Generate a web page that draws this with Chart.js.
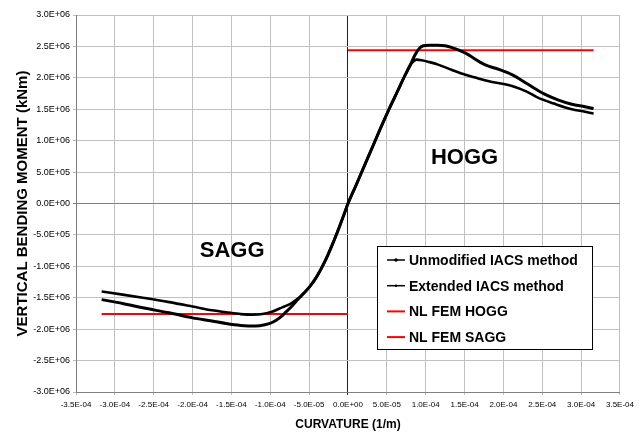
<!DOCTYPE html>
<html>
<head>
<meta charset="utf-8">
<script src="https://cdn.jsdelivr.net/npm/chart.js@4.4.0/dist/chart.umd.min.js"></script>
<style>
  html, body { margin: 0; padding: 0; background: #ffffff; }
  #wrap { width: 639px; height: 432px; }
</style>
</head>
<body>
<div id="wrap"><canvas id="chart" width="639" height="432"></canvas></div>
<script>
// =============================================================================
// DATA
// =============================================================================

const seriesLabels = ['Unmodified IACS method', 'Extended IACS method', 'NL FEM HOGG', 'NL FEM SAGG'];

// Unmodified IACS method (curvature 1/m, moment kNm)
const unmodCurvature = [
  -3.17e-4, -2.9e-4, -2.64e-4, -2.3e-4, -2.0e-4, -1.75e-4, -1.57e-4, -1.38e-4, -1.19e-4,
  -1.07e-4, -0.97e-4, -0.88e-4, -0.80e-4, -0.72e-4, -0.64e-4, -0.57e-4, -0.49e-4, -0.40e-4,
  -0.30e-4, -0.20e-4, -0.11e-4, -0.05e-4, 0, 0.1e-4, 0.19e-4, 0.27e-4, 0.35e-4, 0.43e-4,
  0.52e-4, 0.62e-4, 0.73e-4, 0.80e-4, 0.86e-4, 0.92e-4, 0.97e-4, 1.05e-4, 1.15e-4, 1.25e-4,
  1.34e-4, 1.5e-4, 1.76e-4, 1.95e-4, 2.11e-4, 2.3e-4, 2.53e-4, 2.7e-4, 2.88e-4, 3.05e-4, 3.16e-4
];
const unmodMoment = [
  -1.53e6, -1.59e6, -1.66e6, -1.74e6, -1.82e6, -1.87e6, -1.91e6, -1.94e6, -1.95e6,
  -1.93e6, -1.89e6, -1.82e6, -1.73e6, -1.63e6, -1.52e6, -1.43e6, -1.32e6, -1.16e6,
  -0.93e6, -0.65e6, -0.37e6, -0.17e6, 0, 0.28e6, 0.54e6, 0.77e6, 1.00e6, 1.23e6,
  1.48e6, 1.74e6, 2.03e6, 2.20e6, 2.36e6, 2.47e6, 2.51e6, 2.52e6, 2.52e6, 2.51e6,
  2.48e6, 2.40e6, 2.21e6, 2.13e6, 2.05e6, 1.91e6, 1.74e6, 1.65e6, 1.58e6, 1.54e6, 1.51e6
];

// Extended IACS method
const extCurvature = [
  -3.17e-4, -2.9e-4, -2.64e-4, -2.3e-4, -2.0e-4, -1.75e-4, -1.57e-4, -1.38e-4, -1.23e-4,
  -1.1e-4, -0.97e-4, -0.88e-4, -0.80e-4, -0.72e-4, -0.64e-4, -0.57e-4, -0.49e-4, -0.40e-4,
  -0.30e-4, -0.20e-4, -0.11e-4, -0.05e-4, 0, 0.1e-4, 0.19e-4, 0.27e-4, 0.35e-4, 0.43e-4,
  0.52e-4, 0.62e-4, 0.73e-4, 0.80e-4, 0.84e-4, 0.88e-4, 0.95e-4, 1.05e-4, 1.16e-4, 1.33e-4,
  1.51e-4, 1.65e-4, 1.8e-4, 2.11e-4, 2.3e-4, 2.45e-4, 2.65e-4, 2.88e-4, 3.05e-4, 3.16e-4
];
const extMoment = [
  -1.40e6, -1.45e6, -1.50e6, -1.57e6, -1.64e6, -1.70e6, -1.73e6, -1.76e6, -1.77e6,
  -1.76e6, -1.72e6, -1.67e6, -1.63e6, -1.58e6, -1.51e6, -1.43e6, -1.32e6, -1.16e6,
  -0.93e6, -0.65e6, -0.37e6, -0.17e6, 0, 0.28e6, 0.54e6, 0.77e6, 1.00e6, 1.23e6,
  1.48e6, 1.74e6, 2.03e6, 2.20e6, 2.26e6, 2.29e6, 2.28e6, 2.25e6, 2.21e6, 2.13e6,
  2.05e6, 2.0e6, 1.95e6, 1.87e6, 1.78e6, 1.68e6, 1.59e6, 1.50e6, 1.46e6, 1.43e6
];

// NL FEM ultimate strength lines
const femHoggCurvature = [0, 3.16e-4];
const femHoggMoment = [2.44e6, 2.44e6];
const femSaggCurvature = [-3.17e-4, 0];
const femSaggMoment = [-1.76e6, -1.76e6];

// Region labels placed in data coordinates
const regionLabels = ['HOGG', 'SAGG'];
const regionCurvature = [1.5e-4, -1.49e-4];
const regionMoment = [0.72e6, -0.75e6];

// =============================================================================
// HELPERS
// =============================================================================

const toPoints = (xs, ys) => xs.map((x, i) => ({ x: x, y: ys[i] }));

// Excel style scientific label: 3.0E+06, -5.0E-05
const sciLabel = (v) => {
  if (Math.abs(v) < 1e-15) return '0.0E+00';
  const parts = v.toExponential(1).split('e');
  const exp = parseInt(parts[1], 10);
  return parts[0] + 'E' + (exp < 0 ? '-' : '+') + String(Math.abs(exp)).padStart(2, '0');
};

const seriesColors = ['#000000', '#000000', '#ff0000', '#ff0000'];

// Text labels and legend box drawn on top of the plot
const overlayPlugin = {
  id: 'overlay',
  afterDatasetsDraw(chart) {
    const { ctx, chartArea, scales } = chart;
    ctx.save();

    // HOGG / SAGG
    ctx.fillStyle = '#000000';
    ctx.font = 'bold 22px "Liberation Sans", Arial, sans-serif';
    ctx.textAlign = 'center';
    ctx.textBaseline = 'middle';
    regionLabels.forEach((txt, i) => {
      ctx.fillText(txt, scales.x.getPixelForValue(regionCurvature[i]), scales.y.getPixelForValue(regionMoment[i]));
    });

    // legend box
    const boxX = chartArea.left + 301;
    const boxY = chartArea.top + 231;
    const boxW = 215;
    const boxH = 103;
    ctx.fillStyle = '#ffffff';
    ctx.fillRect(boxX, boxY, boxW, boxH);
    ctx.strokeStyle = '#000000';
    ctx.lineWidth = 1;
    ctx.strokeRect(boxX + 0.5, boxY + 0.5, boxW, boxH);

    ctx.font = 'bold 14px "Liberation Sans", Arial, sans-serif';
    ctx.textAlign = 'left';
    chart.data.datasets.forEach((ds, i) => {
      const cy = boxY + 14 + i * 25.7;
      ctx.strokeStyle = ds.borderColor;
      ctx.lineWidth = i < 2 ? 1.5 : 2;
      ctx.beginPath();
      ctx.moveTo(boxX + 10, cy);
      ctx.lineTo(boxX + 28, cy);
      ctx.stroke();
      if (i < 2) {
        ctx.fillStyle = ds.borderColor;
        ctx.beginPath();
        ctx.arc(boxX + 19, cy, i === 0 ? 1.8 : 1.3, 0, Math.PI * 2);
        ctx.fill();
      }
      ctx.fillStyle = '#000000';
      ctx.fillText(ds.label, boxX + 32, cy + 1);
    });

    ctx.restore();
  }
};

// =============================================================================
// CHART
// =============================================================================

const gridColorFor = (zeroColor) => (c) => (c.tick && Math.abs(c.tick.value) < 1e-15 ? zeroColor : '#c0c0c0');

const ctx = document.getElementById('chart').getContext('2d');

new Chart(ctx, {
  type: 'scatter',
  data: {
    datasets: [
      {
        label: seriesLabels[0],
        data: toPoints(unmodCurvature, unmodMoment),
        borderColor: seriesColors[0],
        borderWidth: 3,
        showLine: true,
        pointRadius: 0,
        cubicInterpolationMode: 'monotone'
      },
      {
        label: seriesLabels[1],
        data: toPoints(extCurvature, extMoment),
        borderColor: seriesColors[1],
        borderWidth: 2.6,
        showLine: true,
        pointRadius: 0,
        cubicInterpolationMode: 'monotone'
      },
      {
        label: seriesLabels[2],
        data: toPoints(femHoggCurvature, femHoggMoment),
        borderColor: seriesColors[2],
        borderWidth: 2,
        showLine: true,
        pointRadius: 0
      },
      {
        label: seriesLabels[3],
        data: toPoints(femSaggCurvature, femSaggMoment),
        borderColor: seriesColors[3],
        borderWidth: 2,
        showLine: true,
        pointRadius: 0
      }
    ]
  },
  options: {
    responsive: false,
    animation: false,
    layout: { padding: { top: 15, right: 17, left: 0, bottom: 0 } },
    plugins: {
      legend: { display: false },
      tooltip: { enabled: false }
    },
    scales: {
      x: {
        type: 'linear',
        min: -3.5e-4,
        max: 3.5e-4,
        border: { color: '#808080' },
        grid: { color: gridColorFor('#202020'), tickLength: 3, lineWidth: 1 },
        ticks: {
          stepSize: 5e-5,
          autoSkip: false,
          maxRotation: 0,
          padding: 5,
          color: '#000000',
          font: { family: '"Liberation Sans Narrow", "Liberation Sans", Arial, sans-serif', size: 8 },
          callback: (v) => sciLabel(v)
        },
        title: {
          display: true,
          text: 'CURVATURE (1/m)',
          color: '#000000',
          font: { family: '"Liberation Sans", Arial, sans-serif', size: 12, weight: 'bold' },
          padding: { top: 4, bottom: 0 }
        },
        afterFit: (scale) => { scale.height = 40; }
      },
      y: {
        min: -3e6,
        max: 3e6,
        border: { color: '#808080' },
        grid: { color: gridColorFor('#808080'), tickLength: 3, lineWidth: 1 },
        ticks: {
          stepSize: 5e5,
          autoSkip: false,
          padding: 3,
          color: '#000000',
          font: { family: '"Liberation Sans", Arial, sans-serif', size: 9 },
          callback: (v) => sciLabel(v)
        },
        title: {
          display: true,
          text: 'VERTICAL BENDING MOMENT (kNm)',
          color: '#000000',
          font: { family: '"Liberation Sans", Arial, sans-serif', size: 15, weight: 'bold' },
          padding: { top: 14, bottom: 0 }
        },
        afterFit: (scale) => { scale.width = 76; }
      }
    }
  },
  plugins: [overlayPlugin]
});
</script>
</body>
</html>
